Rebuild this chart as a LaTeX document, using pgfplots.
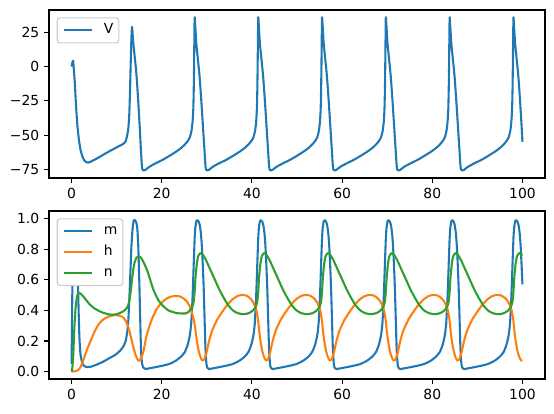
\documentclass[border=0pt]{standalone}
\usepackage{fontspec}
\setmainfont{DejaVu Sans}
\usepackage{pgfplots}
\pgfplotsset{compat=1.18}
\definecolor{tabblue}{HTML}{1F77B4}
\definecolor{taborange}{HTML}{FF7F0E}
\definecolor{tabgreen}{HTML}{2CA02C}
\pgfplotsset{
  panel/.style={
    scale only axis, width=357.12pt, height=120.96pt,
    xmin=-5, xmax=105,
    xtick={0,20,40,60,80,100},
    tick pos=left, tick align=outside,
    major tick length=3.5pt,
    tick style={line width=0.8pt, black},
    axis line style={line width=0.8pt},
    /pgf/number format/assume math mode=true,
    ticklabel style={font=\fontsize{10}{12}\selectfont},
    no markers,
    legend cell align=left,
    legend style={at={(0.0155,0.9565)}, anchor=north west,
      draw=black!20, line width=0.8pt, rounded corners=2pt,
      inner sep=4pt, row sep=5pt, column sep=8pt,
      font=\fontsize{10}{12}\selectfont,
      nodes={inner sep=0pt, text height=7.5pt, text depth=2.5pt}},
    legend image code/.code={\draw[##1, line width=1.5pt, sharp plot] (0pt,0pt) -- (20pt,0pt);},
  },
  trace/.style={line width=1.5pt, line join=round, smooth, tension=0.35},
}
\begin{document}
\begin{tikzpicture}
\useasboundingbox (0,0) rectangle (398.88pt,297.36pt);
% membrane potential
\begin{axis}[panel, at={(35.28pt,169.2pt)}, anchor=south west,
  ymin=-81.35, ymax=41.3,
  ytick={-75,-50,-25,0,25}, yticklabels={−75,−50,−25,0,25}]
\addplot[trace, tabblue] coordinates {
(0,0) (0.15,2.5) (0.36,4.3) (0.5,-2) (0.73,-12.2) (0.9,-23) (1.1,-34) (1.3,-43) (1.47,-48.7) (1.7,-55) (2.0,-60.9) (2.3,-64.5) (2.58,-67) (2.9,-68.8) (3.3,-69.9) (3.7,-70.1) (4.05,-69.7) (5.0,-68.2) (6.3,-65.8) (7.7,-63.1) (9.2,-60.4) (10.4,-58.3) (11.45,-56.5) (12.0,-54.5) (12.35,-50) (12.6,-45) (12.8,-35) (12.95,-20) (13.1,0) (13.25,18) (13.4,29)
(13.5,26) (13.65,19) (13.95,9) (14.35,-4) (14.75,-23) (15.1,-43) (15.4,-62) (15.6,-72.5) (15.75,-75.3) (15.95,-75.8) (16.3,-75.6)
(17.3,-73.1) (18.65,-70.6) (20.15,-68.2) (21.65,-65.3) (23.15,-62.2) (24.35,-59.3) (25.15,-56.8) (25.85,-54) (26.25,-51.5) (26.6,-47) (26.85,-40) (27.0,-31) (27.1,-17) (27.18,3) (27.25,24) (27.3,36)
(27.4,32) (27.5,26) (27.67,17) (28.0,6) (28.4,-7.5) (28.8,-26) (29.15,-44) (29.5,-62) (29.7,-72.5) (29.85,-75.3) (30.05,-75.8) (30.4,-75.6) (31.35,-73.1) (32.75,-70.6) (34.25,-68.2) (35.75,-65.3) (37.25,-62.2) (38.45,-59.3) (39.25,-56.8) (39.95,-54) (40.35,-51.5) (40.7,-47) (40.95,-40) (41.1,-31) (41.2,-17) (41.28,3) (41.35,24) (41.4,36)
(41.5,32) (41.6,26) (41.77,17) (42.1,6) (42.5,-7.5) (42.9,-26) (43.25,-44) (43.6,-62) (43.8,-72.5) (43.95,-75.3) (44.15,-75.8) (44.5,-75.6) (45.5,-73.1) (46.9,-70.6) (48.4,-68.2) (49.9,-65.3) (51.4,-62.2) (52.6,-59.3) (53.4,-56.8) (54.1,-54) (54.5,-51.5) (54.85,-47) (55.1,-40) (55.25,-31) (55.35,-17) (55.43,3) (55.5,24) (55.55,36)
(55.65,32) (55.75,26) (55.92,17) (56.25,6) (56.65,-7.5) (57.05,-26) (57.4,-44) (57.75,-62) (57.95,-72.5) (58.1,-75.3) (58.3,-75.8) (58.65,-75.6) (59.65,-73.1) (61.05,-70.6) (62.55,-68.2) (64.05,-65.3) (65.55,-62.2) (66.75,-59.3) (67.55,-56.8) (68.25,-54) (68.65,-51.5) (69.0,-47) (69.25,-40) (69.4,-31) (69.5,-17) (69.58,3) (69.65,24) (69.7,36)
(69.8,32) (69.9,26) (70.07,17) (70.4,6) (70.8,-7.5) (71.2,-26) (71.55,-44) (71.9,-62) (72.1,-72.5) (72.25,-75.3) (72.45,-75.8) (72.8,-75.6) (73.8,-73.1) (75.2,-70.6) (76.7,-68.2) (78.2,-65.3) (79.7,-62.2) (80.9,-59.3) (81.7,-56.8) (82.4,-54) (82.8,-51.5) (83.15,-47) (83.4,-40) (83.55,-31) (83.65,-17) (83.73,3) (83.8,24) (83.85,36)
(83.95,32) (84.05,26) (84.22,17) (84.55,6) (84.95,-7.5) (85.35,-26) (85.7,-44) (86.05,-62) (86.25,-72.5) (86.4,-75.3) (86.6,-75.8) (86.95,-75.6) (87.95,-73.1) (89.35,-70.6) (90.85,-68.2) (92.35,-65.3) (93.85,-62.2) (95.05,-59.3) (95.85,-56.8) (96.55,-54) (96.95,-51.5) (97.3,-47) (97.55,-40) (97.7,-31) (97.8,-17) (97.88,3) (97.95,24) (98.0,36)
(98.1,32) (98.2,26) (98.37,17) (98.7,6) (99.1,-7.5) (99.45,-24) (99.8,-43) (100,-55)
};
\addlegendentry{V}
\end{axis}
% gating variables
\begin{axis}[panel, at={(35.28pt,24.48pt)}, anchor=south west,
  ymin=-0.048, ymax=1.05,
  ytick={0,0.2,0.4,0.6,0.8,1.0}, yticklabels={0.0,0.2,0.4,0.6,0.8,1.0}]
\addplot[trace, tabblue] coordinates {
(0,0.05) (0.1,0.3) (0.2,0.6) (0.35,0.85) (0.55,0.95) (0.8,0.965) (1.0,0.93) (1.2,0.85) (1.4,0.62) (1.55,0.42) (1.75,0.22) (2.0,0.11) (2.4,0.055) (2.7,0.04) (3.1,0.032) (3.6,0.03) (4.5,0.034) (5.5,0.045) (7.0,0.065) (8.5,0.09) (9.7,0.11) (10.7,0.135) (11.5,0.165) (12.0,0.2) (12.35,0.26) (12.6,0.34) (12.85,0.5) (13.05,0.65) (13.25,0.8) (13.4,0.88) (13.55,0.94) (13.8,0.99) (14.1,0.99) (14.4,0.97) (14.6,0.93) (14.8,0.82) (15.0,0.62) (15.2,0.38) (15.35,0.2) (15.5,0.09) (15.7,0.045) (15.95,0.025) (16.4,0.018)
(17.3,0.022) (19.9,0.037) (21.65,0.05) (23.15,0.072) (24.35,0.10) (25.15,0.13) (25.8,0.18) (26.25,0.24) (26.55,0.32) (26.8,0.46) (27.0,0.62) (27.15,0.75) (27.25,0.83)
(27.3,0.87) (27.45,0.94) (27.7,0.985) (27.9,0.99) (28.2,0.98) (28.45,0.955) (28.7,0.9) (28.9,0.82) (29.1,0.7) (29.3,0.55) (29.5,0.35) (29.7,0.15) (29.9,0.055) (30.1,0.025) (30.5,0.017) (31.4,0.022) (34.0,0.037) (35.75,0.05) (37.25,0.072) (38.45,0.10) (39.25,0.13) (39.9,0.18) (40.35,0.24) (40.65,0.32) (40.9,0.46) (41.1,0.62) (41.25,0.75) (41.35,0.83)
(41.4,0.87) (41.55,0.94) (41.8,0.985) (42.0,0.99) (42.3,0.98) (42.55,0.955) (42.8,0.9) (43.0,0.82) (43.2,0.7) (43.4,0.55) (43.6,0.35) (43.8,0.15) (44.0,0.055) (44.2,0.025) (44.6,0.017) (45.55,0.022) (48.15,0.037) (49.9,0.05) (51.4,0.072) (52.6,0.10) (53.4,0.13) (54.05,0.18) (54.5,0.24) (54.8,0.32) (55.05,0.46) (55.25,0.62) (55.4,0.75) (55.5,0.83)
(55.55,0.87) (55.7,0.94) (55.95,0.985) (56.15,0.99) (56.45,0.98) (56.7,0.955) (56.95,0.9) (57.15,0.82) (57.35,0.7) (57.55,0.55) (57.75,0.35) (57.95,0.15) (58.15,0.055) (58.35,0.025) (58.75,0.017) (59.7,0.022) (62.3,0.037) (64.05,0.05) (65.55,0.072) (66.75,0.10) (67.55,0.13) (68.2,0.18) (68.65,0.24) (68.95,0.32) (69.2,0.46) (69.4,0.62) (69.55,0.75) (69.65,0.83)
(69.7,0.87) (69.85,0.94) (70.1,0.985) (70.3,0.99) (70.6,0.98) (70.85,0.955) (71.1,0.9) (71.3,0.82) (71.5,0.7) (71.7,0.55) (71.9,0.35) (72.1,0.15) (72.3,0.055) (72.5,0.025) (72.9,0.017) (73.85,0.022) (76.45,0.037) (78.2,0.05) (79.7,0.072) (80.9,0.10) (81.7,0.13) (82.35,0.18) (82.8,0.24) (83.1,0.32) (83.35,0.46) (83.55,0.62) (83.7,0.75) (83.8,0.83)
(83.85,0.87) (84.0,0.94) (84.25,0.985) (84.45,0.99) (84.75,0.98) (85.0,0.955) (85.25,0.9) (85.45,0.82) (85.65,0.7) (85.85,0.55) (86.05,0.35) (86.25,0.15) (86.45,0.055) (86.65,0.025) (87.05,0.017) (88.0,0.022) (90.6,0.037) (92.35,0.05) (93.85,0.072) (95.05,0.10) (95.85,0.13) (96.5,0.18) (96.95,0.24) (97.25,0.32) (97.5,0.46) (97.7,0.62) (97.85,0.75) (97.95,0.83)
(98.0,0.87) (98.15,0.94) (98.4,0.985) (98.6,0.99) (98.9,0.98) (99.15,0.955) (99.4,0.9) (99.6,0.82) (99.8,0.7) (100,0.57)
};
\addlegendentry{m}
\addplot[trace, taborange] coordinates {
(0,0.0) (0.5,0.002) (1.0,0.004) (1.5,0.012) (2.0,0.03) (2.5,0.065) (3.0,0.11) (3.5,0.15) (4.2,0.2) (5.0,0.255) (5.8,0.3) (6.6,0.33) (7.5,0.35) (8.5,0.363) (9.5,0.369) (10.3,0.368) (11.2,0.36) (11.8,0.342) (12.2,0.32) (12.7,0.28) (13.0,0.245) (13.3,0.21) (13.8,0.15) (14.3,0.10) (14.9,0.07) (15.4,0.085) (16.0,0.14) (16.6,0.232) (17.3,0.3) (18.0,0.355) (18.8,0.405) (19.8,0.445) (20.8,0.472) (21.8,0.488) (23.0,0.495) (24.0,0.492) (25.0,0.475) (25.6,0.458) (26.15,0.43) (26.55,0.40) (26.85,0.37) (27.1,0.34)
(27.3,0.31) (27.5,0.27) (27.8,0.2) (28.2,0.135) (28.6,0.095) (29.0,0.073) (29.4,0.078) (29.9,0.12) (30.5,0.2) (31.2,0.27) (32.3,0.34) (33.4,0.39) (34.5,0.435) (35.6,0.47) (36.7,0.493) (37.8,0.502) (38.8,0.497) (39.7,0.477) (40.25,0.455) (40.65,0.43) (41.0,0.40) (41.25,0.36)
(41.4,0.33) (41.6,0.27) (41.9,0.2) (42.3,0.135) (42.7,0.095) (43.1,0.073) (43.5,0.078) (44.0,0.12) (44.6,0.2) (45.3,0.27) (46.4,0.34) (47.5,0.39) (48.6,0.435) (49.7,0.47) (50.8,0.493) (51.9,0.502) (52.9,0.497) (53.85,0.477) (54.4,0.455) (54.8,0.43) (55.15,0.40) (55.4,0.36)
(55.55,0.33) (55.75,0.27) (56.05,0.2) (56.45,0.135) (56.85,0.095) (57.25,0.073) (57.65,0.078) (58.15,0.12) (58.75,0.2) (59.45,0.27) (60.55,0.34) (61.65,0.39) (62.75,0.435) (63.85,0.47) (64.95,0.493) (66.05,0.502) (67.05,0.497) (68.0,0.477) (68.55,0.455) (68.95,0.43) (69.3,0.40) (69.55,0.36)
(69.7,0.33) (69.9,0.27) (70.2,0.2) (70.6,0.135) (71.0,0.095) (71.4,0.073) (71.8,0.078) (72.3,0.12) (72.9,0.2) (73.6,0.27) (74.7,0.34) (75.8,0.39) (76.9,0.435) (78.0,0.47) (79.1,0.493) (80.2,0.502) (81.2,0.497) (82.15,0.477) (82.7,0.455) (83.1,0.43) (83.45,0.40) (83.7,0.36)
(83.85,0.33) (84.05,0.27) (84.35,0.2) (84.75,0.135) (85.15,0.095) (85.55,0.073) (85.95,0.078) (86.45,0.12) (87.05,0.2) (87.75,0.27) (88.85,0.34) (89.95,0.39) (91.05,0.435) (92.15,0.47) (93.25,0.493) (94.35,0.502) (95.35,0.497) (96.3,0.477) (96.85,0.455) (97.25,0.43) (97.6,0.40) (97.85,0.36)
(98.0,0.33) (98.2,0.27) (98.5,0.2) (98.9,0.135) (99.3,0.095) (99.7,0.073) (100,0.075)
};
\addlegendentry{h}
\addplot[trace, tabgreen] coordinates {
(0,0.0) (0.2,0.03) (0.4,0.12) (0.6,0.27) (0.8,0.38) (1.0,0.45) (1.3,0.5) (1.6,0.515) (2.0,0.51) (2.5,0.495) (3.2,0.47) (4.0,0.44) (5.0,0.415) (6.0,0.398) (7.0,0.385) (8.2,0.375) (9.2,0.372) (10.3,0.378) (11.4,0.393) (12.1,0.41) (12.5,0.43) (12.8,0.46) (13.1,0.52) (13.4,0.6) (13.7,0.67) (14.0,0.715) (14.4,0.745) (14.8,0.754) (15.3,0.748) (15.8,0.725) (16.8,0.66) (18.1,0.54) (19.2,0.47) (20.35,0.428) (21.5,0.4) (23.3,0.383) (25.2,0.38) (25.9,0.39) (26.5,0.41) (26.85,0.43) (27.1,0.46) (27.2,0.49)
(27.3,0.52) (27.5,0.62) (27.8,0.71) (28.1,0.755) (28.6,0.775) (29.1,0.765) (29.8,0.73) (30.8,0.665) (31.8,0.6) (32.8,0.535) (33.8,0.48) (34.8,0.432) (35.8,0.4) (36.8,0.383) (37.9,0.376) (38.8,0.378) (39.55,0.386) (40.15,0.398) (40.65,0.415) (40.95,0.432) (41.2,0.46) (41.3,0.49)
(41.4,0.52) (41.6,0.62) (41.9,0.71) (42.2,0.755) (42.7,0.775) (43.2,0.765) (43.9,0.73) (44.9,0.665) (45.9,0.6) (46.9,0.535) (47.9,0.48) (48.9,0.432) (49.9,0.4) (50.9,0.383) (52.0,0.376) (52.9,0.378) (53.7,0.386) (54.3,0.398) (54.8,0.415) (55.1,0.432) (55.35,0.46) (55.45,0.49)
(55.55,0.52) (55.75,0.62) (56.05,0.71) (56.35,0.755) (56.85,0.775) (57.35,0.765) (58.05,0.73) (59.05,0.665) (60.05,0.6) (61.05,0.535) (62.05,0.48) (63.05,0.432) (64.05,0.4) (65.05,0.383) (66.15,0.376) (67.05,0.378) (67.85,0.386) (68.45,0.398) (68.95,0.415) (69.25,0.432) (69.5,0.46) (69.6,0.49)
(69.7,0.52) (69.9,0.62) (70.2,0.71) (70.5,0.755) (71.0,0.775) (71.5,0.765) (72.2,0.73) (73.2,0.665) (74.2,0.6) (75.2,0.535) (76.2,0.48) (77.2,0.432) (78.2,0.4) (79.2,0.383) (80.3,0.376) (81.2,0.378) (82.0,0.386) (82.6,0.398) (83.1,0.415) (83.4,0.432) (83.65,0.46) (83.75,0.49)
(83.85,0.52) (84.05,0.62) (84.35,0.71) (84.65,0.755) (85.15,0.775) (85.65,0.765) (86.35,0.73) (87.35,0.665) (88.35,0.6) (89.35,0.535) (90.35,0.48) (91.35,0.432) (92.35,0.4) (93.35,0.383) (94.45,0.376) (95.35,0.378) (96.15,0.386) (96.75,0.398) (97.25,0.415) (97.55,0.432) (97.8,0.46) (97.9,0.49)
(98.0,0.52) (98.2,0.62) (98.5,0.71) (98.8,0.755) (99.3,0.775) (99.8,0.765) (100,0.76)
};
\addlegendentry{n}
\end{axis}
\end{tikzpicture}
\end{document}
